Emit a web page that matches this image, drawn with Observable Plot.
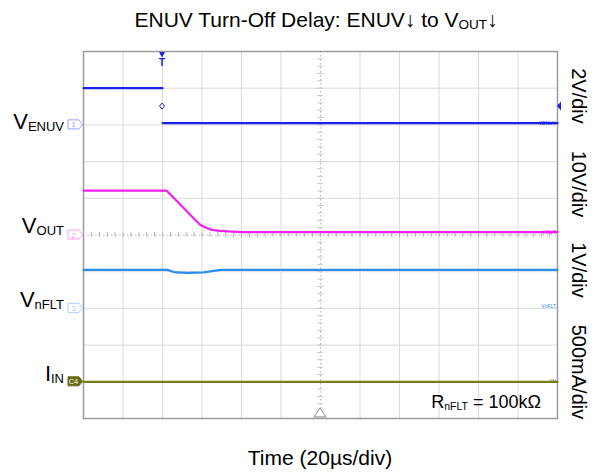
<!DOCTYPE html>
<html><head><meta charset="utf-8">
<script src="https://cdn.jsdelivr.net/npm/d3@7"></script>
<script src="https://cdn.jsdelivr.net/npm/@observablehq/plot@0.6"></script>
<style>
body{margin:0;background:#fff;}
#chart svg{display:block;}
</style></head><body><div id="chart"></div>
<script>
// ---- data ----
const channelNames = ["ENUV", "OUT", "nFLT", "IN"];
const channelMain = ["V", "V", "V", "I"];
const channelScales = ["2V/div", "10V/div", "1V/div", "500mA/div"];
const unitsPerDiv = [2, 10, 1, 0.5];
const offsetDiv = [8, 5, 3, 1];
const channelColors = ["#1b22ee", "#f41ff0", "#2a8df0", "#7b7b1c"];
const markerColors = ["#9a9cff", "#ff9cf6", "#a9d0ff", "#6a6a12"];

// ENUV (V) — null = no trace drawn during the instantaneous edge
const enuvTime = [-40, 0, 0, 0, 200];
const enuvValue = [2.0, 2.0, null, 0.1, 0.1];
// VOUT (V)
const voutTime = [-40, 2, 19, 22, 25, 29, 33, 40, 200];
const voutValue = [12.1, 12.1, 2.8, 2.0, 1.4, 1.1, 1.0, 0.8, 0.8];
// VnFLT (V)
const nfltTime = [-40, 2.4, 6.6, 13, 20.8, 29.4, 200];
const nfltValue = [1.05, 1.05, 0.98, 0.97, 0.98, 1.05, 1.05];
// IIN (A)
const iinTime = [-40, 200];
const iinValue = [0, 0];

const timeDomain = [-40, 200];      // µs, 20 µs/div, trigger at 0
const timeGrid = d3.range(-40, 201, 20);
const divGrid = d3.range(0, 11);
const centerTime = 80;
const centerDiv = 5;
const triggerTime = 0;
const triggerLevelDiv = 8.5;

const title = [["ENUV Turn-Off Delay: ENUV↓ to V", false], ["OUT", true], ["↓", false]];
const xLabel = "Time (20µs/div)";
const noteParts = [["R", false], ["nFLT", true], [" = 100kΩ", false]];

// ---- build ----
const series = [
  [enuvTime, enuvValue], [voutTime, voutValue], [nfltTime, nfltValue], [iinTime, iinValue]
];
const rows = series.flatMap(([ts, vs], c) => ts.map((t, i) => ({
  ch: c, t, div: vs[i] == null ? null : vs[i] / unitsPerDiv[c] + offsetDiv[c]
})));
const minorX = d3.range(-40, 201, 4);
const minorY = d3.range(0, 10.01, 0.2);

const font = "Arial, 'Liberation Sans', sans-serif";
const plot = Plot.plot({
  width: 600, height: 473,
  marginLeft: 83, marginRight: 43, marginTop: 51, marginBottom: 55,
  style: {fontFamily: font, background: "#fff"},
  x: {domain: timeDomain, axis: null},
  y: {domain: [0, 10], axis: null},
  marks: [
    Plot.ruleX(timeGrid.filter(t => t !== centerTime), {stroke: "#dadada", strokeWidth: 1}),
    Plot.ruleY(divGrid.filter(d => d !== centerDiv), {stroke: "#dadada", strokeWidth: 1}),
    Plot.ruleX([centerTime], {stroke: "#b8b8b8", strokeDasharray: "1.5,2.5"}),
    Plot.ruleY([centerDiv], {stroke: "#b0b0b0", strokeDasharray: "1.5,2.5"}),
    Plot.ruleX(minorX, {x: d => d, y1: centerDiv - 0.07, y2: centerDiv + 0.07, stroke: "#b5b5b5"}),
    Plot.ruleY(minorY, {y: d => d, x1: centerTime - 1.4, x2: centerTime + 1.4, stroke: "#c5c5c5"}),
    Plot.frame({stroke: "#9c9c9c", strokeWidth: 1.5}),
    Plot.line(rows, {x: "t", y: "div", z: "ch", stroke: d => channelColors[d.ch], strokeWidth: 2.2, curve: "linear"})
  ]
});
document.getElementById("chart").append(plot);

const x = plot.scale("x"), y = plot.scale("y");
const svg = d3.select(plot);
const g = svg.append("g").attr("font-family", font);

function rich(sel, px, py, parts, o) {
  const t = sel.append("text").attr("x", px).attr("y", py)
    .attr("text-anchor", o.anchor || "start").attr("fill", o.fill || "#000")
    .attr("font-size", o.size);
  let shift = 0;
  for (const [s, sub] of parts) {
    const want = sub ? o.subDy : 0;
    t.append("tspan").attr("dy", want - shift).attr("font-size", sub ? o.subSize : o.size).text(s);
    shift = want;
  }
  return t;
}

const x0 = x.apply(timeDomain[0]), x1 = x.apply(timeDomain[1]);
const yTop = y.apply(10), yBot = y.apply(0);
const xMid = x.apply(centerTime);

// title, axis label, note
rich(g, xMid - 4, yTop - 24, title, {anchor: "middle", size: 21, subSize: 13.5, subDy: 2});
g.append("text").attr("x", xMid).attr("y", yBot + 47).attr("text-anchor", "middle")
  .attr("font-size", 21).text(xLabel);
rich(g, x1 - 16, yBot - 10, noteParts, {anchor: "end", size: 18, subSize: 10.5, subDy: 2});

// channel labels, markers, scales
const labelDy = [5, -2, -0.5, -0.5];
const scaleY = [96, 184, 270, 372];
channelNames.forEach((name, c) => {
  const cy = y.apply(offsetDiv[c]);
  rich(g, x0 - 19, cy + labelDy[c], [[channelMain[c], false], [name, true]],
    {anchor: "end", size: 22, subSize: 13, subDy: 2});
  // marker tag
  const mx = x0 - 15;
  const path = `M${mx},${cy - 4.5}H${mx + 11}L${x0 - 0.5},${cy}L${mx + 11},${cy + 4.5}H${mx}Z`;
  const filled = c === 3;
  g.append("path").attr("d", path)
    .attr("fill", filled ? markerColors[c] : "#fff")
    .attr("stroke", markerColors[c]).attr("stroke-width", 1);
  g.append("text").attr("x", mx + 5.5).attr("y", cy + 3).attr("text-anchor", "middle")
    .attr("font-size", 7.5).attr("fill", filled ? "#fff" : markerColors[c])
    .text(filled ? "C4" : String(c + 1));
  // small end labels
  const lastDiv = rows.filter(r => r.ch === c).at(-1).div;
  const ly = c === 2 ? cy - 2 : y.apply(lastDiv);
  g.append("text").attr("x", x1 - 1).attr("y", ly + 2).attr("text-anchor", "end")
    .attr("font-size", 5).attr("fill", channelColors[c])
    .text(channelMain[c] + name);
  // volts/div
  g.append("text").attr("transform", `translate(${x1 + 15},${scaleY[c]}) rotate(90)`)
    .attr("text-anchor", "middle").attr("font-size", 20).text(channelScales[c]);
});

// trigger markers
const tx = x.apply(triggerTime), ty = y.apply(triggerLevelDiv);
g.append("path").attr("d", `M${tx - 3},${yTop + 1}H${tx + 3}L${tx},${yTop + 6.5}Z`).attr("fill", channelColors[0]);
g.append("text").attr("x", tx).attr("y", yTop + 15).attr("text-anchor", "middle")
  .attr("font-size", 10.5).attr("font-weight", "bold").attr("fill", channelColors[0]).text("T");
g.append("path").attr("d", `M${tx},${ty - 3}L${tx + 2.5},${ty}L${tx},${ty + 3}L${tx - 2.5},${ty}Z`)
  .attr("fill", "#fff").attr("stroke", channelColors[0]).attr("stroke-width", 1);
g.append("path").attr("d", `M${x1 + 4},${ty - 4.5}V${ty + 4.5}L${x1},${ty}Z`).attr("fill", channelColors[0]);
// horizontal position marker
g.append("path").attr("d", `M${xMid - 6},${yBot - 1}H${xMid + 6}L${xMid},${yBot - 10}Z`)
  .attr("fill", "#fff").attr("stroke", "#8a8a8a").attr("stroke-width", 1);
</script>
</body></html>
